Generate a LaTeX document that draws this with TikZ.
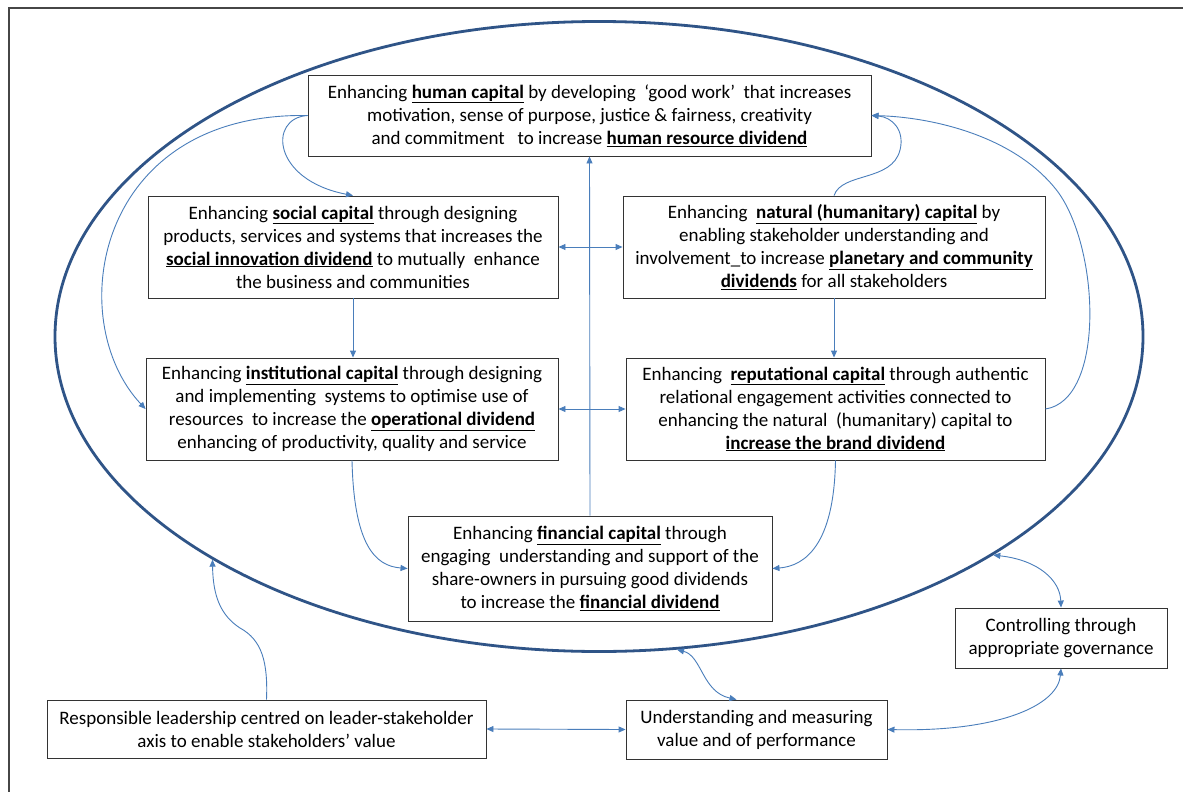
\documentclass[tikz,border=0pt]{standalone}
\usepackage{fontspec}
\setmainfont{Carlito}
\usetikzlibrary{arrows.meta,shapes.geometric,calc}
\definecolor{arrowblue}{RGB}{74,126,187}
\definecolor{ringblue}{RGB}{47,84,135}
\definecolor{framegrey}{RGB}{70,70,70}
\newcommand{\ub}[1]{\underline{\textbf{#1}}}
\tikzset{
  box/.style={draw=black!80, line width=0.9pt, align=center, inner sep=0pt,
    font=\fontsize{19}{23}\selectfont, fill=white},
  link/.style={draw=arrowblue, line width=0.9pt, -{Triangle[length=7pt,width=6pt]}},
  twoway/.style={draw=arrowblue, line width=0.9pt, {Triangle[length=7pt,width=6pt]}-{Triangle[length=7pt,width=6pt]}},
  ring/.style={draw=ringblue, line width=2.8pt, ellipse, inner sep=0pt},
  frame/.style={draw=framegrey, line width=1.8pt}
}
\begin{document}
\begin{tikzpicture}[x=1pt,y=-1pt]
\useasboundingbox (0,0) rectangle (1183,792);
\clip (0,0) rectangle (1183,792);
\fill[white] (0,0) rectangle (1183,792);
% outer frame
\draw[frame] (9,8) rectangle (1210,820);
% the enclosing ellipse
\node[ring, minimum width=1088pt, minimum height=630pt] (ring) at (599,336.5) {};

% capital boxes
\node[box, minimum width=563pt, minimum height=81pt] (human) at (589.5,115.5)
  {Enhancing \ub{human capital} by developing~ ‘good work’~ that increases\\
   motivation, sense of purpose, justice \& fairness, creativity\\
   and commitment~~ to increase \ub{human resource dividend}};
\node[box, minimum width=410pt, minimum height=102pt] (social) at (353,247)
  {Enhancing \ub{social capital} through designing\\
   products, services and systems that increases the\\
   \ub{social innovation dividend} to mutually~ enhance\\
   the business and communities};
\node[box, minimum width=422pt, minimum height=102pt] (natural) at (834,247)
  {Enhancing~ \ub{natural (humanitary) capital} by\\
   enabling stakeholder understanding and\\
   involvement\_to increase \ub{planetary and community}\\
   \ub{dividends} for all stakeholders};
\node[box, minimum width=412pt, minimum height=102pt] (inst) at (352,409)
  {Enhancing \ub{institutional capital} through designing\\
   and implementing~ systems to optimise use of\\
   resources~ to increase the \ub{operational dividend}\\
   enhancing of productivity, quality and service};
\node[box, minimum width=419pt, minimum height=102pt] (rep) at (835.5,409)
  {Enhancing~ \ub{reputational capital} through authentic\\
   relational engagement activities connected to\\
   enhancing the natural~ (humanitary) capital to\\
   \ub{increase the brand dividend}};
\node[box, minimum width=364pt, minimum height=105pt] (fin) at (590,568.5)
  {Enhancing \ub{financial capital} through\\
   engaging~ understanding and support of the\\
   share-owners in pursuing good dividends\\
   to increase the \ub{financial dividend}};

% boxes outside the ellipse
\node[box, minimum width=212pt, minimum height=60pt] (gov) at (1061,638)
  {Controlling through\\appropriate governance};
\node[box, minimum width=261pt, minimum height=59pt] (meas) at (756.5,729.5)
  {Understanding and measuring\\value and of performance};
\node[box, minimum width=439pt, minimum height=58pt] (lead) at (266.5,729)
  {Responsible leadership centred on leader-stakeholder\\axis to enable stakeholders’ value};

% links inside the ellipse
\draw[link] (fin.north) -- (human.south);
\draw[twoway] (social.east) -- (natural.west);
\draw[twoway] (inst.east) -- (rep.west);
\draw[link] (social.south) -- (social.south |- inst.north);
\draw[link] (natural.south) -- (natural.south |- rep.north);
\draw[link] (human.west) .. controls (268,118) and (272,180) .. (social.north);
\draw[link] (human.west) .. controls (95,112) and (62,320) .. (inst.west);
\draw[link] (natural.north) .. controls (842,172) and (892,182) .. (900,150)
  .. controls (905,130) and (892,117) .. (human.east);
\draw[link] (rep.east) .. controls (1105,400) and (1100,250) .. (1058,192)
  .. controls (1015,135) and (930,117) .. (human.east);
\draw[link] (inst.south) .. controls (354,545) and (375,566) .. (fin.west);
\draw[link] (rep.south) .. controls (834,545) and (805,566) .. (fin.east);

% links outside the ellipse
\draw[link] (lead.north) .. controls (268,662) and (262,640) .. (240,628)
  .. controls (220,615) and (213,595) .. (ring.210);
\draw[twoway] (lead.east) -- (meas.west);
\draw[twoway] (ring.284) .. controls (702,656) and (702,692) .. ([xshift=-20pt]meas.north);
\draw[twoway] (meas.east) .. controls (1000,732) and (1058,705) .. (gov.south);
\draw[twoway] (ring.331) .. controls (1038,560) and (1060,580) .. (gov.north);
\end{tikzpicture}
\end{document}
